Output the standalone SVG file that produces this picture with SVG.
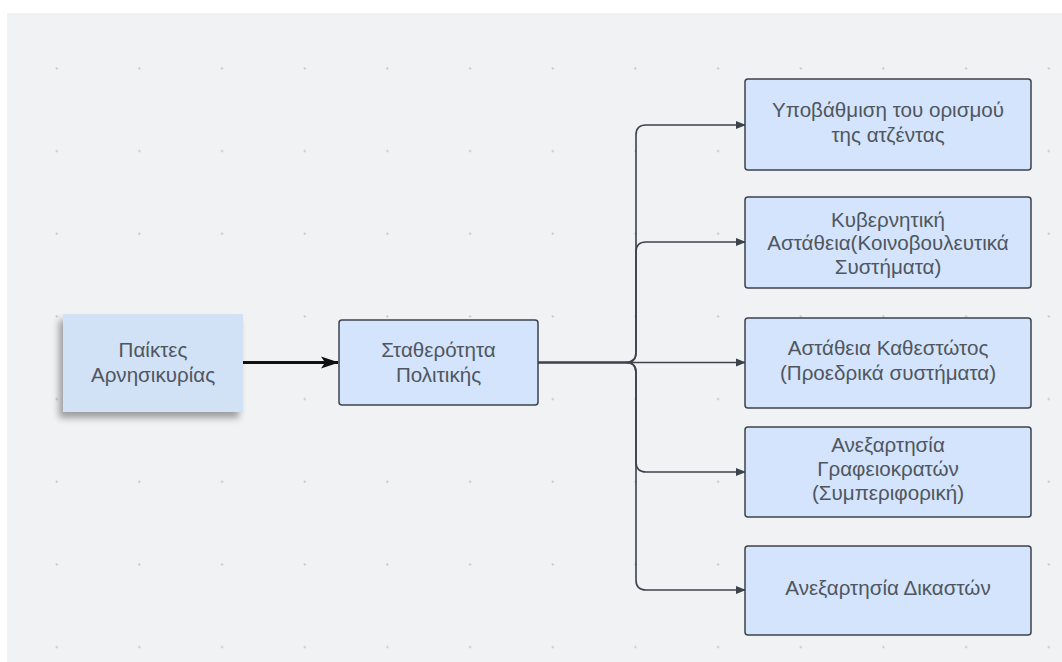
<svg xmlns="http://www.w3.org/2000/svg" width="1062" height="662" viewBox="0 0 1062 662">
<style>
.box{fill:#d3e4fc;stroke:#3d434b;stroke-width:1.5}
.sticky{fill:#d1e1f6}
.t{font-family:"Liberation Sans",Arial,sans-serif;font-size:20.6px;fill:#50565e;text-anchor:middle}
.conn{fill:none;stroke:#3d434b;stroke-width:1.6}
</style>
<defs>
<pattern id="grid" patternUnits="userSpaceOnUse" x="15.37" y="27" width="82.67" height="82.67">
<path d="M40.1 41.33h2.6M41.33 40.1v2.6" stroke="#c2c5ca" stroke-width="0.9"/>
</pattern>
<marker id="ah" markerWidth="10" markerHeight="10" refX="9" refY="5" orient="auto" markerUnits="userSpaceOnUse">
<path d="M0 1 L10 5 L0 9 Z" fill="#3d434b"/>
</marker>
<marker id="ahb" markerWidth="18" markerHeight="14" refX="17" refY="7" orient="auto" markerUnits="userSpaceOnUse">
<path d="M0 1 L18 7 L0 13 L4 7 Z" fill="#111"/>
</marker>
<filter id="shadow" x="-20%" y="-20%" width="140%" height="150%">
<feGaussianBlur in="SourceAlpha" stdDeviation="3.5"/>
<feOffset dx="-4" dy="6" result="b"/>
<feComponentTransfer><feFuncA type="linear" slope="0.35"/></feComponentTransfer>
<feMerge><feMergeNode/><feMergeNode in="SourceGraphic"/></feMerge>
</filter>
</defs>
<rect x="0" y="0" width="1062" height="662" fill="#ffffff"/>
<rect x="7" y="13" width="1055" height="649" fill="#f1f2f4"/>
<rect x="7" y="13" width="1055" height="649" fill="url(#grid)"/>

<g id="connectors">
<line x1="243" y1="362.5" x2="338" y2="362.5" stroke="#111" stroke-width="3" marker-end="url(#ahb)"/>
<path class="conn" d="M538 362.5 H626 Q636 362.5 636 352.5 V135 Q636 125 646 125 H745" marker-end="url(#ah)"/>
<path class="conn" d="M538 362.5 H626 Q636 362.5 636 352.5 V252 Q636 242 646 242 H745" marker-end="url(#ah)"/>
<path class="conn" d="M538 362.5 H745" marker-end="url(#ah)"/>
<path class="conn" d="M538 362.5 H626 Q636 362.5 636 372.5 V462 Q636 472 646 472 H745" marker-end="url(#ah)"/>
<path class="conn" d="M538 362.5 H626 Q636 362.5 636 372.5 V580 Q636 590 646 590 H745" marker-end="url(#ah)"/>
</g>

<g id="node-paiktes">
<rect class="sticky" x="63" y="314" width="180" height="98" filter="url(#shadow)"/>
<text class="t" x="153" y="357">Παίκτες</text>
<text class="t" x="153" y="382">Αρνησικυρίας</text>
</g>

<g id="node-statherotita">
<rect class="box" x="339" y="320" width="199" height="85" rx="3"/>
<text class="t" x="438.5" y="357">Σταθερότητα</text>
<text class="t" x="438.5" y="382">Πολιτικής</text>
</g>

<g id="node-ypovathmisi">
<rect class="box" x="745" y="79" width="286" height="91" rx="3"/>
<text class="t" x="888" y="117">Υποβάθμιση του ορισμού</text>
<text class="t" x="888" y="142">της ατζέντας</text>
</g>

<g id="node-kyvernitiki">
<rect class="box" x="745" y="197" width="286" height="91" rx="3"/>
<text class="t" x="888" y="226.5">Κυβερνητική</text>
<text class="t" x="888" y="250">Αστάθεια(Κοινοβουλευτικά</text>
<text class="t" x="888" y="273.5">Συστήματα)</text>
</g>

<g id="node-kathestotos">
<rect class="box" x="745" y="318" width="286" height="90" rx="3"/>
<text class="t" x="888" y="355">Αστάθεια Καθεστώτος</text>
<text class="t" x="888" y="380">(Προεδρικά συστήματα)</text>
</g>

<g id="node-grafeiokraton">
<rect class="box" x="745" y="427" width="286" height="90" rx="3"/>
<text class="t" x="888" y="452">Ανεξαρτησία</text>
<text class="t" x="888" y="476">Γραφειοκρατών</text>
<text class="t" x="888" y="500">(Συμπεριφορική)</text>
</g>

<g id="node-dikaston">
<rect class="box" x="745" y="546" width="286" height="89" rx="3"/>
<text class="t" x="888" y="595">Ανεξαρτησία Δικαστών</text>
</g>
</svg>
